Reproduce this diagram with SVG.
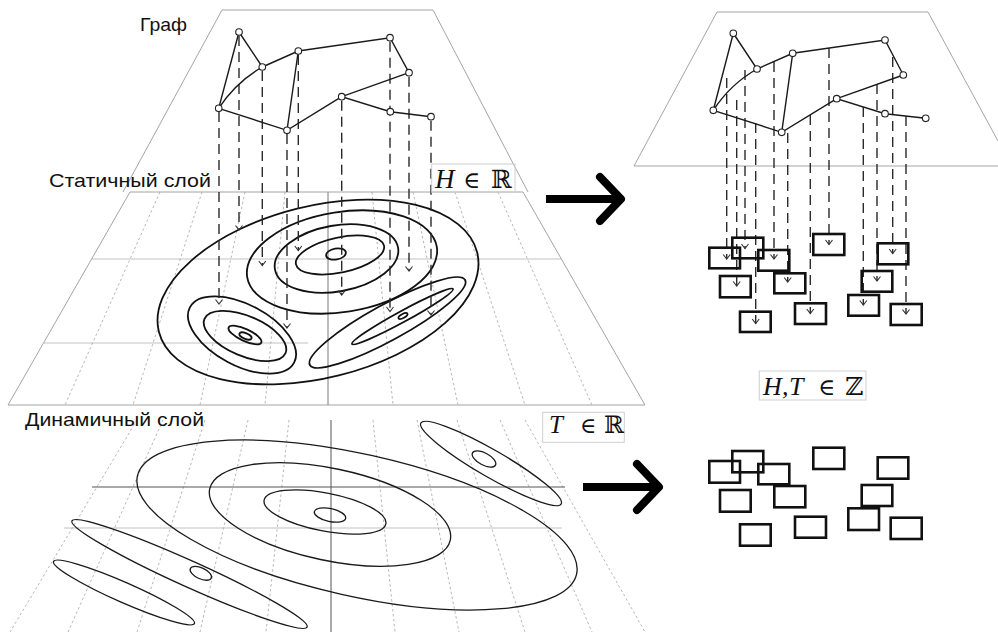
<svg xmlns="http://www.w3.org/2000/svg" width="998" height="632" viewBox="0 0 998 632">
<style>
.plane{fill:none;stroke:#9a9a9a;stroke-width:0.9}
.grid{fill:none;stroke:#a5a5a5;stroke-width:0.8;stroke-dasharray:2.5 2.5}
.hgrid{fill:none;stroke:#d6d6d6;stroke-width:1.4}
.axis{fill:none;stroke:#7a7a7a;stroke-width:1}
.axis2{fill:none;stroke:#555;stroke-width:1}
.cs{fill:none;stroke:#111;stroke-width:1.8}
.cd{fill:none;stroke:#1a1a1a;stroke-width:1.3}
.edge{fill:none;stroke:#1a1a1a;stroke-width:1.4}
.node{fill:#fff;stroke:#222;stroke-width:1.1}
.proj{fill:none;stroke:#2a2a2a;stroke-width:1.4;stroke-dasharray:10 6;marker-end:url(#ah)}
.box{fill:none;stroke:#cfcfcf;stroke-width:1}
.cell{fill:none;stroke:#111;stroke-width:2.6}
.shaft{fill:none;stroke:#000;stroke-width:8;stroke-linecap:butt}
.big{fill:none;stroke:#000;stroke-width:8;stroke-linecap:round;stroke-linejoin:round}
.lbl{font-family:'Liberation Sans',Arial,sans-serif;font-size:19px;fill:#111}
.mi{font-family:'Liberation Serif','Times New Roman',serif;font-style:italic;fill:#111}
.ms{font-family:'DejaVu Serif','DejaVu Sans',serif;fill:#111}
</style>
<defs>
<marker id="ah" markerUnits="userSpaceOnUse" markerWidth="12" markerHeight="12" viewBox="-6 -6 12 12" refX="0" refY="0" orient="auto">
<path d="M-4.5,-3.5 L0,0 L-4.5,3.5" fill="none" stroke="#333" stroke-width="1.1"/>
</marker>
</defs>
<rect width="998" height="632" fill="#fff"/>

<!-- graph plane (left) -->
<g id="graph-plane-left">
<path class="plane" d="M123,192 L222,10 H433 L528,192"/>
</g>

<!-- static layer -->
<g id="static-layer">
<path class="hgrid" d="M92,259 H561 M44,343 H308"/>
<path class="grid" d="M160,192 L65,405 M202,192 L133,405 M245,192 L200,405 M285,192 L265,405 M372,192 L393,405 M413,192 L458,405 M455,192 L525,405 M498,192 L592,405"/>
<path class="axis" d="M328,192 V405"/>
<path class="plane" d="M130,192 H523 L645,405 H8 Z"/>
<ellipse class="cs" cx="318" cy="292" rx="164" ry="86" transform="rotate(-14 318 292)"/>
<ellipse class="cs" cx="342" cy="262" rx="96" ry="50" transform="rotate(-9 342 262)"/>
<ellipse class="cs" cx="336.5" cy="258.5" rx="62.5" ry="33" transform="rotate(-10 336.5 258.5)"/>
<ellipse class="cs" cx="340" cy="255" rx="45" ry="17.5" transform="rotate(-12 340 255)"/>
<ellipse class="cs" cx="336" cy="254" rx="10" ry="5.5" transform="rotate(-10 336 254)"/>
<ellipse class="cs" cx="242" cy="335" rx="59" ry="30.5" transform="rotate(28 242 335)"/>
<ellipse class="cs" cx="245" cy="336" rx="44" ry="20" transform="rotate(23 245 336)"/>
<ellipse class="cs" cx="245" cy="335" rx="18" ry="6" transform="rotate(25 245 335)"/>
<ellipse class="cs" cx="245.5" cy="336" rx="6.5" ry="2.8" transform="rotate(22 245.5 336)"/>
<ellipse class="cs" cx="387.5" cy="322.5" rx="88.5" ry="18" transform="rotate(-28.7 387.5 322.5)"/>
<ellipse class="cs" cx="402.5" cy="316.5" rx="57.5" ry="5.5" transform="rotate(-28.6 402.5 316.5)"/>
<ellipse class="cs" cx="403" cy="316" rx="5" ry="2" transform="rotate(-28 403 316)"/>
</g>

<!-- dynamic layer -->
<g id="dynamic-layer">
<path class="hgrid" d="M64,528 H562"/>
<path class="grid" d="M137,420 L10,632 M163,420 L68,632 M205,420 L137,632 M248,420 L200,632 M289,420 L266,632 M373,420 L395,632 M417,420 L459,632 M457,420 L525,632 M500,420 L592,632 M525,420 L645,632"/>
<path class="axis2" d="M92,487 H565 M331,420 V632"/>
<ellipse class="cd" cx="357" cy="525" rx="225" ry="71" transform="rotate(12.6 357 525)"/>
<ellipse class="cd" cx="330" cy="514.5" rx="123" ry="46" transform="rotate(12 330 514.5)"/>
<ellipse class="cd" cx="325" cy="512" rx="62" ry="19" transform="rotate(11 325 512)"/>
<ellipse class="cd" cx="330" cy="515" rx="16" ry="6.5" transform="rotate(12 330 515)"/>
<ellipse class="cd" cx="491" cy="463.5" rx="81" ry="13.5" transform="rotate(30 491 463.5)"/>
<ellipse class="cd" cx="484" cy="459" rx="13" ry="6" transform="rotate(28 484 459)"/>
<ellipse class="cd" cx="189.5" cy="574" rx="129" ry="13" transform="rotate(24.3 189.5 574)"/>
<ellipse class="cd" cx="124" cy="592.5" rx="77" ry="10" transform="rotate(23.8 124 592.5)"/>
<ellipse class="cd" cx="200.8" cy="573.3" rx="11.5" ry="5.5" transform="rotate(25 200.8 573.3)"/>
</g>

<!-- projections (left) -->
<g id="projections-left">
<path class="proj" d="M219,112 V304"/>
<path class="proj" d="M239,36 V230"/>
<path class="proj" d="M262.3,71 V265.5"/>
<path class="proj" d="M287,134 V328"/>
<path class="proj" d="M298.3,55 V250.5"/>
<path class="proj" d="M341.7,100.7 V295"/>
<path class="proj" d="M390,41.7 V311.5"/>
<path class="proj" d="M409,76.7 V271"/>
<path class="proj" d="M431,120.7 V315"/>
</g>

<!-- graph (left) -->
<g id="graph-left">
<path class="edge" d="M218.7,108.3 L239,32 L262.3,67 L298.3,51 L390,37.7 L409,72.7 L341.7,96.7 L390.3,111.7 L431,116.7 M218.7,108.3 Q236,82 262.3,67 M218.7,108.3 L287,130.3 L341.7,96.7 M287,130.3 L298.3,51"/>
<circle id="n-a" class="node" cx="239" cy="32" r="3.3"/>
<circle id="n-b" class="node" cx="262.3" cy="67" r="3.3"/>
<circle id="n-c" class="node" cx="298.3" cy="51" r="3.3"/>
<circle id="n-d" class="node" cx="390" cy="37.7" r="3.3"/>
<circle id="n-e" class="node" cx="409" cy="72.7" r="3.3"/>
<circle id="n-f" class="node" cx="341.7" cy="96.7" r="3.3"/>
<circle id="n-g" class="node" cx="390.3" cy="111.7" r="3.3"/>
<circle id="n-h" class="node" cx="431" cy="116.7" r="3.3"/>
<circle id="n-i" class="node" cx="218.7" cy="108.3" r="3.3"/>
<circle id="n-j" class="node" cx="287" cy="130.3" r="3.3"/>
</g>

<!-- right graph plane -->
<g id="graph-plane-right">
<path class="plane" d="M634,166 L717,12 H928 L998,141 M634,166 H998"/>
</g>

<!-- projections (right) -->
<g id="projections-right">
<path class="proj" d="M726.7,78 V259"/>
<path class="proj" d="M736.7,100 V286"/>
<path class="proj" d="M745,70 V248.5"/>
<path class="proj" d="M755.7,123 V323.5"/>
<path class="proj" d="M774,62 V259"/>
<path class="proj" d="M787.7,133 V282"/>
<path class="proj" d="M810.3,115 V313.5"/>
<path class="proj" d="M829,48 V244.5"/>
<path class="proj" d="M863.3,107 V305"/>
<path class="proj" d="M877,84 V281"/>
<path class="proj" d="M892.7,57 V253.5"/>
<path class="proj" d="M906,116 V314"/>
</g>

<!-- graph (right) -->
<g id="graph-right">
<path class="edge" d="M713.3,110.3 L733.3,33.3 L757,69 L792.7,53.3 L885,40 L903.3,75 L836.7,98.7 L885,113.7 L925.7,118.3 M713.3,110.3 Q730.5,84 757,69 M713.3,110.3 L781.7,132.3 L836.7,98.7 M781.7,132.3 L792.7,53.3"/>
<circle id="m-a" class="node" cx="733.3" cy="33.3" r="3.3"/>
<circle id="m-b" class="node" cx="757" cy="69" r="3.3"/>
<circle id="m-c" class="node" cx="792.7" cy="53.3" r="3.3"/>
<circle id="m-d" class="node" cx="885" cy="40" r="3.3"/>
<circle id="m-e" class="node" cx="903.3" cy="75" r="3.3"/>
<circle id="m-f" class="node" cx="836.7" cy="98.7" r="3.3"/>
<circle id="m-g" class="node" cx="885" cy="113.7" r="3.3"/>
<circle id="m-h" class="node" cx="925.7" cy="118.3" r="3.3"/>
<circle id="m-i" class="node" cx="713.3" cy="110.3" r="3.3"/>
<circle id="m-j" class="node" cx="781.7" cy="132.3" r="3.3"/>
</g>

<!-- cells (top) -->
<g id="cells-top">
<rect class="cell" x="709.3" y="247.7" width="30.7" height="20.6"/>
<rect class="cell" x="732.3" y="237.7" width="31" height="20.6"/>
<rect class="cell" x="758.3" y="250" width="31" height="20.7"/>
<rect class="cell" x="720" y="276" width="30.7" height="21.3"/>
<rect class="cell" x="774.3" y="273.3" width="31" height="20"/>
<rect class="cell" x="740" y="311.7" width="30.7" height="20.3"/>
<rect class="cell" x="813.3" y="234" width="31" height="21"/>
<rect class="cell" x="795" y="303.3" width="31" height="20.7"/>
<rect class="cell" x="877.7" y="243.3" width="30.6" height="21"/>
<rect class="cell" x="861.7" y="271" width="30.6" height="20.7"/>
<rect class="cell" x="848.3" y="295" width="30.7" height="20.7"/>
<rect class="cell" x="890.7" y="304" width="31" height="21"/>
</g>

<!-- cells (bottom) -->
<g id="cells-bottom">
<rect class="cell" x="709.3" y="461" width="30.7" height="21.7"/>
<rect class="cell" x="732.3" y="451" width="31" height="21.3"/>
<rect class="cell" x="758.3" y="464" width="31" height="20.3"/>
<rect class="cell" x="720" y="490" width="30.7" height="21.7"/>
<rect class="cell" x="774.3" y="486" width="31" height="21.3"/>
<rect class="cell" x="740" y="524.3" width="30.7" height="21.4"/>
<rect class="cell" x="813.3" y="447.7" width="31" height="21.3"/>
<rect class="cell" x="795" y="516.7" width="31" height="21"/>
<rect class="cell" x="877.7" y="457.3" width="30.6" height="21.4"/>
<rect class="cell" x="861.7" y="485" width="30.6" height="21"/>
<rect class="cell" x="848.3" y="508.3" width="30.7" height="21.7"/>
<rect class="cell" x="890.7" y="517.7" width="31" height="21.3"/>
</g>

<!-- big arrows -->
<g id="arrow-static">
<path class="shaft" d="M546,199 H618"/>
<path class="big" d="M600,177 L621,199 L600,221"/>
</g>
<g id="arrow-dynamic">
<path class="shaft" d="M583,487 H656"/>
<path class="big" d="M637,464 L659,487 L637,510"/>
</g>

<!-- labels -->
<g id="labels">
<text class="lbl" x="140" y="31" font-size="20" textLength="47" lengthAdjust="spacingAndGlyphs">Граф</text>
<text class="lbl" x="49" y="187" textLength="162" lengthAdjust="spacingAndGlyphs">Статичный слой</text>
<text class="lbl" x="25" y="426" textLength="179" lengthAdjust="spacingAndGlyphs">Динамичный слой</text>
</g>
<g id="label-h">
<rect class="box" x="431.7" y="164" width="83.3" height="28.3"/>
<text y="188"><tspan class="mi" x="435" font-size="27">H</tspan><tspan class="ms" x="463" font-size="23">∈</tspan><tspan class="ms" x="491" font-size="25">ℝ</tspan></text>
</g>
<g id="label-t">
<rect class="box" x="542.7" y="412.3" width="81.6" height="30"/>
<text y="433"><tspan class="mi" x="549" font-size="25">T</tspan><tspan class="ms" x="580" font-size="22">∈</tspan><tspan class="ms" x="604" font-size="24">ℝ</tspan></text>
</g>
<g id="label-ht">
<rect class="box" x="759.3" y="371" width="106.7" height="29"/>
<text y="395"><tspan class="mi" x="763" font-size="26">H</tspan><tspan class="mi" x="782" font-size="26">,</tspan><tspan class="mi" x="789" font-size="26">T</tspan><tspan class="ms" x="818" font-size="23">∈</tspan><tspan class="ms" x="845" font-size="25">ℤ</tspan></text>
</g>
</svg>
